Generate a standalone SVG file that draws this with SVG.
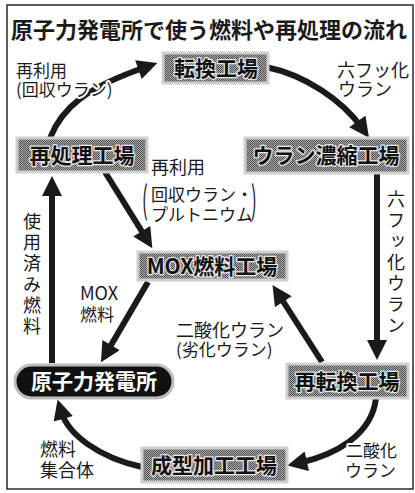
<svg xmlns="http://www.w3.org/2000/svg" width="415" height="493" viewBox="0 0 415 493">
<defs>
<pattern id="dots" width="2" height="2" patternUnits="userSpaceOnUse"><rect width="2" height="2" fill="#ababab"/><rect width="1" height="1" fill="#505050"/><rect x="1" y="1" width="1" height="1" fill="#505050"/></pattern>
<marker id="ah" viewBox="0 0 10 10" refX="4" refY="5" markerWidth="21" markerHeight="20" markerUnits="userSpaceOnUse" orient="auto"><path d="M0,0 L10,5 L0,10 z" fill="#1a1a1a"/></marker>
<style>
text{font-family:"Noto Sans CJK JP","Noto Sans",sans-serif;fill:#1a1a1a}
.title{font-size:22px;font-weight:bold}
.lbl{font-size:17px;stroke:#fff;stroke-width:4;paint-order:stroke;stroke-linejoin:round}
.box{fill:url(#dots);stroke:#cfcfcf;stroke-width:3}
.nt{font-size:21px;font-weight:bold;text-anchor:middle;fill:#111;stroke:#e8e8e8;stroke-width:2.5;paint-order:stroke;stroke-linejoin:round}
.arr{fill:none;stroke:#1a1a1a;stroke-width:6;marker-end:url(#ah)}
.vt{font-size:18px;writing-mode:vertical-rl;text-orientation:upright;letter-spacing:3px}
</style>
</defs>
<rect width="415" height="493" fill="#fff"/>
<rect x="7" y="5" width="406" height="484" fill="none" stroke="#2a2a2a" stroke-width="1.5"/>
<text class="title" x="11" y="38">原子力発電所で使う燃料や再処理の流れ</text>

<g id="connectors">
<path class="arr" d="M50,138 C62,108 85,88 146,67"/>
<path class="arr" d="M266,67 C305,75 342,100 362,128"/>
<path class="arr" d="M377,174 L377,348"/>
<path class="arr" d="M376,398 C372,435 335,455 299,463"/>
<path class="arr" d="M142,467 C100,458 68,435 61,411"/>
<path class="arr" d="M52,363 L52,188"/>
<path class="arr" d="M105,172 L146,238"/>
<path class="arr" d="M148,282 L107,352"/>
<path class="arr" d="M322,362 L279,295"/>
</g>

<g id="tenkan"><rect class="box" x="163" y="53" width="105" height="30"/><text class="nt" x="216" y="76">転換工場</text></g>
<g id="saishori"><rect class="box" x="17" y="138" width="130" height="34"/><text class="nt" x="82" y="163">再処理工場</text></g>
<g id="noshuku"><rect class="box" x="245" y="138" width="163" height="35"/><text class="nt" x="326" y="163">ウラン濃縮工場</text></g>
<g id="mox"><rect class="box" x="138" y="252" width="149" height="28"/><text class="nt" x="212" y="274">MOX燃料工場</text></g>
<g id="genpatsu"><rect x="15" y="365" width="158" height="33" rx="16.5" fill="#111" stroke="#bdbdbd" stroke-width="3"/><text x="94" y="389" style="font-size:21px;font-weight:bold;text-anchor:middle;fill:#fff">原子力発電所</text></g>
<g id="saitenkan"><rect class="box" x="287" y="364" width="121" height="34"/><text class="nt" x="347" y="389">再転換工場</text></g>
<g id="seikei"><rect class="box" x="142" y="448" width="145" height="34"/><text class="nt" x="214" y="473">成型加工工場</text></g>

<g id="labels">
<text class="lbl"><tspan x="16" y="77">再利用</tspan><tspan x="16" y="96">(回収ウラン)</tspan></text>
<text class="lbl" style="font-size:18px"><tspan x="337" y="77">六フッ化</tspan><tspan x="338" y="96">ウラン</tspan></text>
<text class="lbl"><tspan x="151" y="174" style="font-size:18px">再利用</tspan><tspan x="151" y="201">回収ウラン・</tspan><tspan x="151" y="221">プルトニウム</tspan></text>
<text class="lbl" transform="translate(142,214) scale(1,2.2)" style="stroke-width:0">(</text>
<text class="lbl" transform="translate(251,214) scale(1,2.2)" style="stroke-width:0">)</text>
<text class="vt" x="396" y="190">六フッ化ウラン</text>
<text class="vt" x="32" y="212">使用済み燃料</text>
<text class="lbl"><tspan x="80" y="300" style="font-size:18px">MOX</tspan><tspan x="80" y="321">燃料</tspan></text>
<text class="lbl"><tspan x="176" y="337" style="font-size:18px">二酸化ウラン</tspan><tspan x="176" y="356">(劣化ウラン)</tspan></text>
<text class="lbl" style="font-size:18px"><tspan x="40" y="456">燃料</tspan><tspan x="40" y="477">集合体</tspan></text>
<text class="lbl"><tspan x="346" y="457">二酸化</tspan><tspan x="345" y="477">ウラン</tspan></text>
</g>
</svg>
